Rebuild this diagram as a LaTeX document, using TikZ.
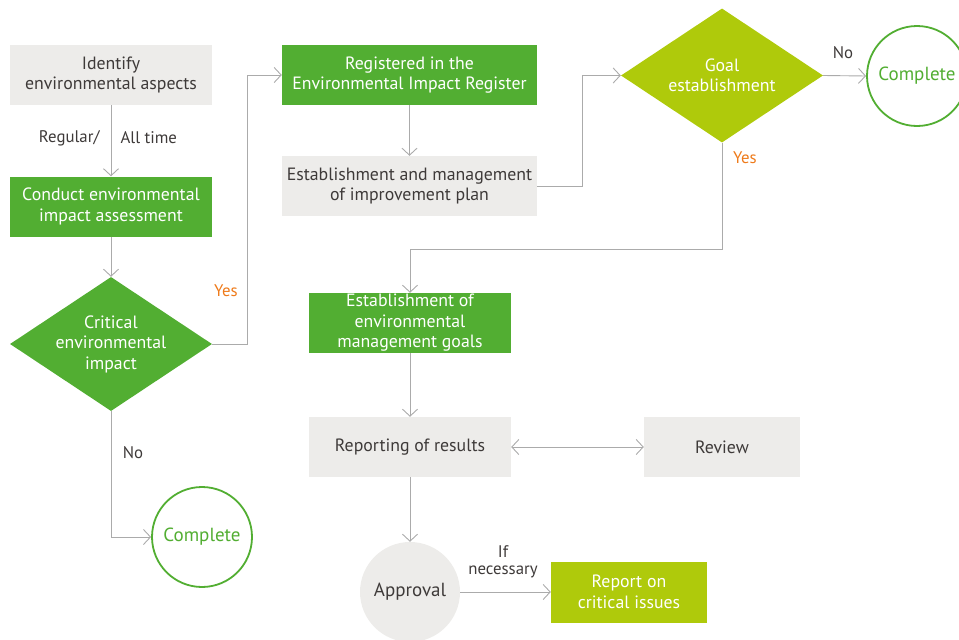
\documentclass[tikz,border=0pt]{standalone}
\usepackage{fontspec}
\setmainfont{PT Sans}
\usetikzlibrary{arrows.meta,calc,positioning,shapes.geometric}
\definecolor{leaf}{HTML}{52AE32}
\definecolor{lime}{HTML}{AFCA0B}
\definecolor{paper}{HTML}{EDECEA}
\definecolor{wire}{HTML}{ABABAB}
\definecolor{ink}{HTML}{3E3A39}
\definecolor{flag}{HTML}{EE7A1A}
\tikzset{>={Straight Barb[length=7pt,width=15pt]}}

\begin{document}
\begin{tikzpicture}[x=1pt,y=-1pt,
  font=\fontsize{17.8}{20.5}\selectfont,
  box/.style={rectangle,minimum width=202pt,minimum height=60pt,inner sep=0pt,align=center},
  graybox/.style={box,fill=paper,text=ink},
  greenbox/.style={box,fill=leaf,text=white},
  limebox/.style={box,fill=lime,text=white},
  decision/.style={diamond,minimum width=202pt,minimum height=134pt,inner sep=0pt},
  endcircle/.style={circle,draw=leaf,line width=1.8pt,minimum size=100pt,inner sep=0pt,text=leaf,fill=white,font=\fontsize{19}{21}\selectfont},
  flow/.style={draw=wire,line width=0.9pt,->},
  lbl/.style={text=ink,font=\fontsize{16.8}{17}\selectfont},
  yes/.style={text=flag,font=\fontsize{16.8}{17}\selectfont}]
\useasboundingbox (0,0) rectangle (959,640);
% left column
\node[graybox] (ident) at (111,75) {Identify\\environmental aspects};
\node[greenbox] (assess) at (111,206.5) {Conduct environmental\\impact assessment};
\node[decision,fill=leaf,label={[text=white,align=center]center:{Critical\\environmental\\impact}}] (crit) at (111,344) {};
\node[endcircle] (done1) at (202,537) {Complete};
% middle column
\node[greenbox,minimum width=255pt] (reg) at (409.5,75) {Registered in the\\Environmental Impact Register};
\node[graybox,minimum width=255pt] (plan) at (409.5,186) {Establishment and management\\of improvement plan};
\node[greenbox] (goals) at (410,323) {Establishment of\\environmental\\management goals};
\node[graybox] (report) at (410,447) {Reporting of results};
\node[circle,fill=paper,text=ink,minimum size=100pt,inner sep=0pt,font=\fontsize{19}{21}\selectfont] (approve) at (410,592) {Approval};
% right side
\node[decision,fill=lime,label={[text=white,align=center]center:{Goal\\establishment}}] (goal) at (722,75.5) {};
\node[endcircle] (done2) at (917,76) {Complete};
\node[graybox,minimum width=156pt] (review) at (722,447) {Review};
\node[limebox,minimum width=156pt,minimum height=61pt] (issues) at (629,592) {Report on\\critical issues};

% connectors
\draw[flow] (ident) -- (assess);
\draw[flow] (assess) -- (crit);
\draw[flow] (crit.east) -- ++(35,0) |- (reg.west);
\draw[flow] (crit.south) |- (done1.west);
\draw[flow] (reg) -- (plan);
\draw[flow] (plan.east) -- ++(45,0) |- (goal.west);
\draw[flow] (goal.east) -- (done2.west);
\draw[flow] (goal.south) -- ++(0,107) -| (goals.north);
\draw[flow] (goals) -- (report);
\draw[flow,<->] (report) -- (review);
\draw[flow] (report) -- (approve);
\draw[flow] (approve) -- (issues);

% labels
\node[lbl,anchor=east] at (103,138) {Regular/};
\node[lbl,anchor=west] at (117,138) {All time};
\node[yes] at (226,291) {Yes};
\node[lbl] at (133,453) {No};
\node[lbl] at (843,53) {No};
\node[yes] at (745,158) {Yes};
\node[lbl,align=center] at (503,561.5) {If\\necessary};
\end{tikzpicture}
\end{document}
